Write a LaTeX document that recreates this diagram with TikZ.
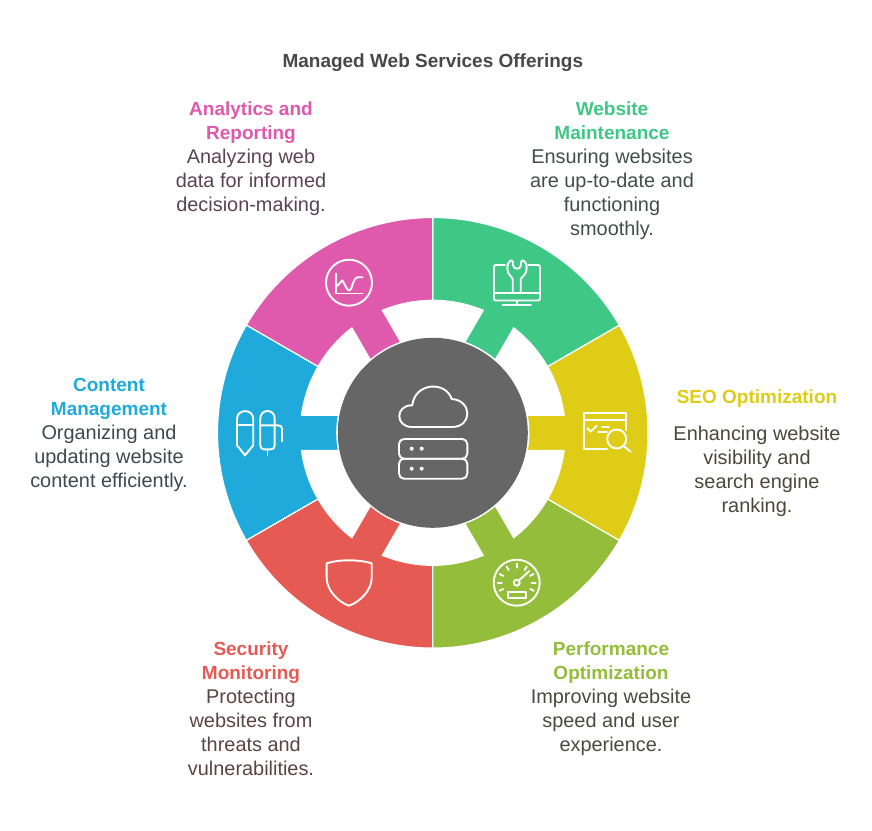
\documentclass[tikz,border=0pt]{standalone}
\usepackage{fontspec}
\setmainfont{Liberation Sans}
\usepackage{tikz}
\definecolor{seoyellow}{HTML}{DFCC16}
\definecolor{maintgreen}{HTML}{3EC785}
\definecolor{analyticspink}{HTML}{DF59AC}
\definecolor{contentblue}{HTML}{1FAADB}
\definecolor{securityred}{HTML}{E65A54}
\definecolor{perflime}{HTML}{93BD3A}
\definecolor{hubgray}{HTML}{666666}
\definecolor{titlegray}{HTML}{484848}
\definecolor{seobody}{HTML}{4A4838}
\definecolor{maintbody}{HTML}{3F4F48}
\definecolor{analyticsbody}{HTML}{5A4350}
\definecolor{contentbody}{HTML}{3C4A50}
\definecolor{securitybody}{HTML}{5A4442}
\definecolor{perfbody}{HTML}{474C3C}
\newcommand{\wheelpart}{(-30:215.3) arc[start angle=-30,end angle=30,radius=215.3] -- (30:132.5) arc[start angle=30,end angle=7.63,radius=132.5] -- (10.56:96) arc[start angle=10.56,end angle=-10.56,radius=96] -- (-7.63:132.5) arc[start angle=-7.63,end angle=-30,radius=132.5] -- cycle}
\newcommand{\txtsize}{\fontsize{19.9}{24}\selectfont}
\newcommand{\headsize}{\fontsize{19}{24}\selectfont\bfseries}
\tikzset{
  blocktext/.style={align=center,inner sep=0pt,font=\txtsize,execute at begin node=\strut,execute at end node=\strut},
  iconline/.style={draw=white,line width=1.9pt,line cap=round,line join=round},
}
\begin{document}
\begin{tikzpicture}[x=1pt,y=1pt]
\useasboundingbox (-432.8,-397.2) rectangle (439.2,432.8);
\foreach \a/\c in {0/seoyellow,60/maintgreen,120/analyticspink,180/contentblue,240/securityred,300/perflime}
  \fill[\c,draw=white,line width=1.2pt,rotate=\a] \wheelpart;
\node[circle,fill=hubgray,minimum size=190pt,inner sep=0pt] (hub) at (0,0) {};
% texts
\node[blocktext,font=\headsize,text=titlegray] (title) at (0,369.8) {Managed Web Services Offerings};
\node[blocktext,text=analyticsbody] (analytics) at (-181.8,272.3) {\textcolor{analyticspink}{\headsize Analytics and}\\\textcolor{analyticspink}{\headsize Reporting}\\Analyzing web\\data for informed\\decision-making.};
\node[blocktext,text=maintbody] (maintenance) at (179.2,260.3) {\textcolor{maintgreen}{\headsize Website}\\\textcolor{maintgreen}{\headsize Maintenance}\\Ensuring websites\\are up-to-date and\\functioning\\smoothly.};
\node[blocktext,font=\headsize,text=seoyellow] (seohead) at (324.2,33.8) {SEO Optimization};
\node[blocktext,text=seobody] (seobody) at (324.2,-39.7) {Enhancing website\\visibility and\\search engine\\ranking.};
\node[blocktext,text=contentbody] (content) at (-323.8,-3.7) {\textcolor{contentblue}{\headsize Content}\\\textcolor{contentblue}{\headsize Management}\\Organizing and\\updating website\\content efficiently.};
\node[blocktext,text=securitybody] (security) at (-181.8,-279.7) {\textcolor{securityred}{\headsize Security}\\\textcolor{securityred}{\headsize Monitoring}\\Protecting\\websites from\\threats and\\vulnerabilities.};
\node[blocktext,text=perfbody] (performance) at (178.2,-267.7) {\textcolor{perflime}{\headsize Performance}\\\textcolor{perflime}{\headsize Optimization}\\Improving website\\speed and user\\experience.};
% icons
\begin{scope}[shift={(-432.8,432.8)},yscale=-1]
% wrench on monitor
\draw[iconline] (505,265) -- (496,265) .. controls (494.5,265) and (494,265.5) .. (494,267) -- (494,298.5) .. controls (494,300) and (494.5,300.5) .. (496,300.5) -- (537.5,300.5) .. controls (539,300.5) and (540,300) .. (540,298.5) -- (540,267) .. controls (540,265.5) and (539,265) .. (537.5,265) -- (528,265);
\draw[iconline] (494,292.7) -- (540,292.7);
\draw[iconline] (517,300.5) -- (517,305);
\draw[iconline] (502.5,305) -- (531,305);
\draw[iconline] (512.7,292.7) -- (512.7,279) .. controls (512,276.5) and (507.3,275) .. (507.3,268) .. controls (507.3,264.5) and (508,262.5) .. (510.5,260.5) .. controls (512,260) and (513,261) .. (513,262.5) -- (513,265) .. controls (513,270) and (521,270) .. (521,265) -- (521,262.5) .. controls (521,261) and (522,260) .. (523.5,260.5) .. controls (526,262.5) and (526.7,264.5) .. (526.7,268) .. controls (526.7,275) and (522,276.5) .. (520.7,279) -- (520.7,292.7);
% chart
\draw[iconline] (349,282.7) circle (23);
\draw[iconline] (335.7,273.5) -- (335.7,293.5) -- (362.5,293.5);
\draw[iconline] (336,287) -- (342.3,280.5) .. controls (345,284) and (346.5,290.3) .. (349.3,290.3) .. controls (352.5,290.3) and (352.5,277.5) .. (358,277.3) -- (362.5,277.3);
% seo page
\draw[iconline] (607,449.3) -- (584,449.3) -- (584,413.3) -- (626,413.3) -- (626,430);
\draw[iconline] (584,420) -- (626,420);
\draw[iconline] (587.3,428.3) -- (590.7,431.7) -- (596.7,425.7);
\draw[iconline] (602,427.3) -- (609,427.3);
\draw[iconline] (598.3,431.7) -- (607,431.7);
\draw[iconline] (616.7,439) circle (9.5);
\draw[iconline] (623.5,446) -- (630.7,451.7);
% gauge
\draw[iconline] (516.7,582.7) circle (23);
\draw[iconline] (516.7,582.7) circle (3);
\draw[iconline] (518.9,580.5) -- (529.3,571);
\foreach \t in {25,0,-27,-58,-90,-122,-153,-180,-205}
  \draw[iconline] ([shift={(\t:15)}]516.7,582.7) -- ([shift={(\t:19)}]516.7,582.7);
\draw[iconline] (507.7,591.7) rectangle (526,598.3);
% shield
\draw[iconline] (326.7,563.3) .. controls (334,561) and (342,560.3) .. (349,560.3) .. controls (356,560.3) and (364,561) .. (371.7,563.3) -- (371.7,578) .. controls (371.7,590) and (360,602) .. (349,605.7) .. controls (338,602) and (326.7,590) .. (326.7,578) -- cycle;
% pens
\draw[iconline] (237,445.3) -- (237,419) .. controls (237,408.5) and (253.3,408.5) .. (253.3,419) -- (253.3,445.3) -- (245,455.3) -- cycle;
\draw[iconline] (237,425.3) -- (253.3,425.3);
\draw[iconline] (260.3,445.3) -- (260.3,418.5) .. controls (260.3,408.5) and (274.7,408.5) .. (274.7,418.5) -- (274.7,445.3) .. controls (274.7,448.3) and (273,449.3) .. (271,449.3) -- (264,449.3) .. controls (262,449.3) and (260.3,448.3) .. (260.3,445.3) -- cycle;
\draw[iconline] (260.3,425.3) -- (278,425.3) .. controls (281,425.3) and (282,426.5) .. (282,429) -- (282,441.3);
\draw[iconline] (267.5,449.3) -- (267.5,455.3);
% cloud and servers
\draw[iconline] (412,427) .. controls (395,427) and (395,405) .. (412.3,405.3) .. controls (415,382) and (446,381) .. (451.7,399) .. controls (472,400) and (473,427) .. (452,427) -- cycle;
\draw[iconline,rounded corners=5pt] (399,439) rectangle (467.3,458.7);
\draw[iconline,rounded corners=5pt] (399,458.7) rectangle (467.3,478.7);
\foreach \d in {411.7,421.7} {
  \fill[white] (\d,448.7) circle (2);
  \fill[white] (\d,468.7) circle (2);
}
\end{scope}
\end{tikzpicture}
\end{document}
